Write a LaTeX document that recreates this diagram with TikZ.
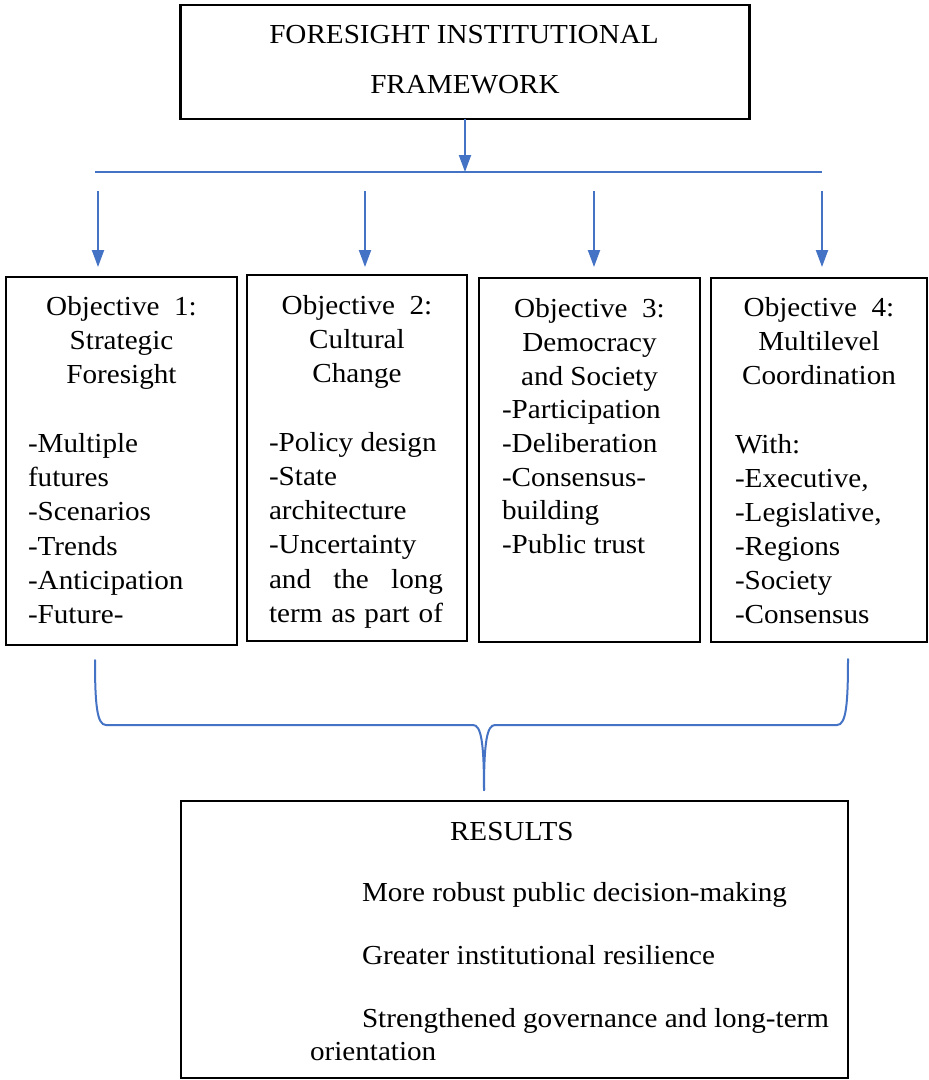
\documentclass[tikz,border=0pt]{standalone}
\usepackage{fontspec}
\setmainfont[FakeStretch=1.06]{Liberation Serif}
\usetikzlibrary{arrows.meta}
\definecolor{linkblue}{RGB}{68,114,196}
\begin{document}
\begin{tikzpicture}[x=1pt,y=-1pt,
  every node/.style={font=\fontsize{27.5}{34}\selectfont, inner sep=0pt, outer sep=0pt},
  box/.style={draw=black, line width=2.2pt, fill=none},
  conn/.style={draw=linkblue, line width=2pt},
  arr/.style={conn, -{Triangle[length=17pt,width=12pt]}},
  txt/.style={anchor=base west},
  ctr/.style={anchor=base}]
\useasboundingbox[fill=white] (0,0) rectangle (929,1080);

% boxes
\node[box, minimum width=569pt, minimum height=114pt] (top) at (465,62) {};
\node[box, minimum width=231pt, minimum height=368pt] (o1) at (121.5,461) {};
\node[box, minimum width=220pt, minimum height=366pt] (o2) at (357,458) {};
\node[box, minimum width=221pt, minimum height=364pt] (o3) at (589.5,460) {};
\node[box, minimum width=216pt, minimum height=364pt] (o4) at (819,460) {};
\node[box, minimum width=667pt, minimum height=277pt] (res) at (514.5,939.5) {};

% title
\node[ctr] (t1) at (464,43) {FORESIGHT INSTITUTIONAL};
\node[ctr] (t2) at (465,93) {FRAMEWORK};

% objective 1
\node[ctr] (a1) at (121.5,315) {Objective\ \ 1:};
\node[ctr] (a2) at (121.5,349) {Strategic};
\node[ctr] (a3) at (121.5,383) {Foresight};
\node[txt] (a4) at (28,452) {-Multiple};
\node[txt] (a5) at (28,486) {futures};
\node[txt] (a6) at (28,520) {-Scenarios};
\node[txt] (a7) at (28,555) {-Trends};
\node[txt] (a8) at (28,589) {-Anticipation};
\node[txt] (a9) at (28,623) {-Future-};

% objective 2
\node[ctr] (b1) at (357,314) {Objective\ \ 2:};
\node[ctr] (b2) at (357,348) {Cultural};
\node[ctr] (b3) at (357,382) {Change};
\node[txt] (b4) at (269,451) {-Policy design};
\node[txt] (b5) at (269,485) {-State};
\node[txt] (b6) at (269,519) {architecture};
\node[txt] (b7) at (269,553) {-Uncertainty};
\node[txt] (b8) at (269,588) {\makebox[174pt][s]{and the long}};
\node[txt] (b9) at (269,622) {\makebox[174pt][s]{term as part of}};

% objective 3
\node[ctr] (c1) at (589.5,317) {Objective\ \ 3:};
\node[ctr] (c2) at (589.5,351) {Democracy};
\node[ctr] (c3) at (589.5,385) {and Society};
\node[txt] (c4) at (502,418) {-Participation};
\node[txt] (c5) at (502,452) {-Deliberation};
\node[txt] (c6) at (502,486) {-Consensus-};
\node[txt] (c7) at (502,519) {building};
\node[txt] (c8) at (502,553) {-Public trust};

% objective 4
\node[ctr] (d1) at (819,316) {Objective\ \ 4:};
\node[ctr] (d2) at (819,350) {Multilevel};
\node[ctr] (d3) at (819,384) {Coordination};
\node[txt] (d4) at (735,453) {With:};
\node[txt] (d5) at (735,487) {-Executive,};
\node[txt] (d6) at (735,521) {-Legislative,};
\node[txt] (d7) at (735,555) {-Regions};
\node[txt] (d8) at (735,589) {-Society};
\node[txt] (d9) at (735,623) {-Consensus};

% results
\node[txt] (r1) at (450,840) {RESULTS};
\node[txt] (r2) at (362,901) {More robust public decision-making};
\node[txt] (r3) at (362,964) {Greater institutional resilience};
\node[txt] (r4) at (362,1027) {Strengthened governance and long-term};
\node[txt] (r5) at (310,1060) {orientation};

% connectors
\coordinate (barL) at (95,172);
\coordinate (barM) at (465,172);
\coordinate (barR) at (822,172);
\draw[arr] (top.south) -- (barM);
\draw[conn] (barL) -- (barR);
\coordinate (s1) at (98,191);  \coordinate (e1) at (98,267);
\coordinate (s2) at (365,191); \coordinate (e2) at (365,267);
\coordinate (s3) at (594,191); \coordinate (e3) at (594,267);
\coordinate (s4) at (822,191); \coordinate (e4) at (822,267);
\draw[arr] (s1) -- (e1);
\draw[arr] (s2) -- (e2);
\draw[arr] (s3) -- (e3);
\draw[arr] (s4) -- (e4);

% brace
\coordinate (bl) at (95,660);
\coordinate (br) at (848,659);
\coordinate (btip) at (484,790);
\draw[conn, line cap=round] (bl) .. controls (95,705) and (97,725) .. (106,725) -- (473,725)
   .. controls (481,725) and (484,742) .. (btip);
\draw[conn, line cap=round] (br) .. controls (848,705) and (846,725) .. (837,725) -- (495,725)
   .. controls (487,725) and (484,742) .. (btip);
\end{tikzpicture}
\end{document}
